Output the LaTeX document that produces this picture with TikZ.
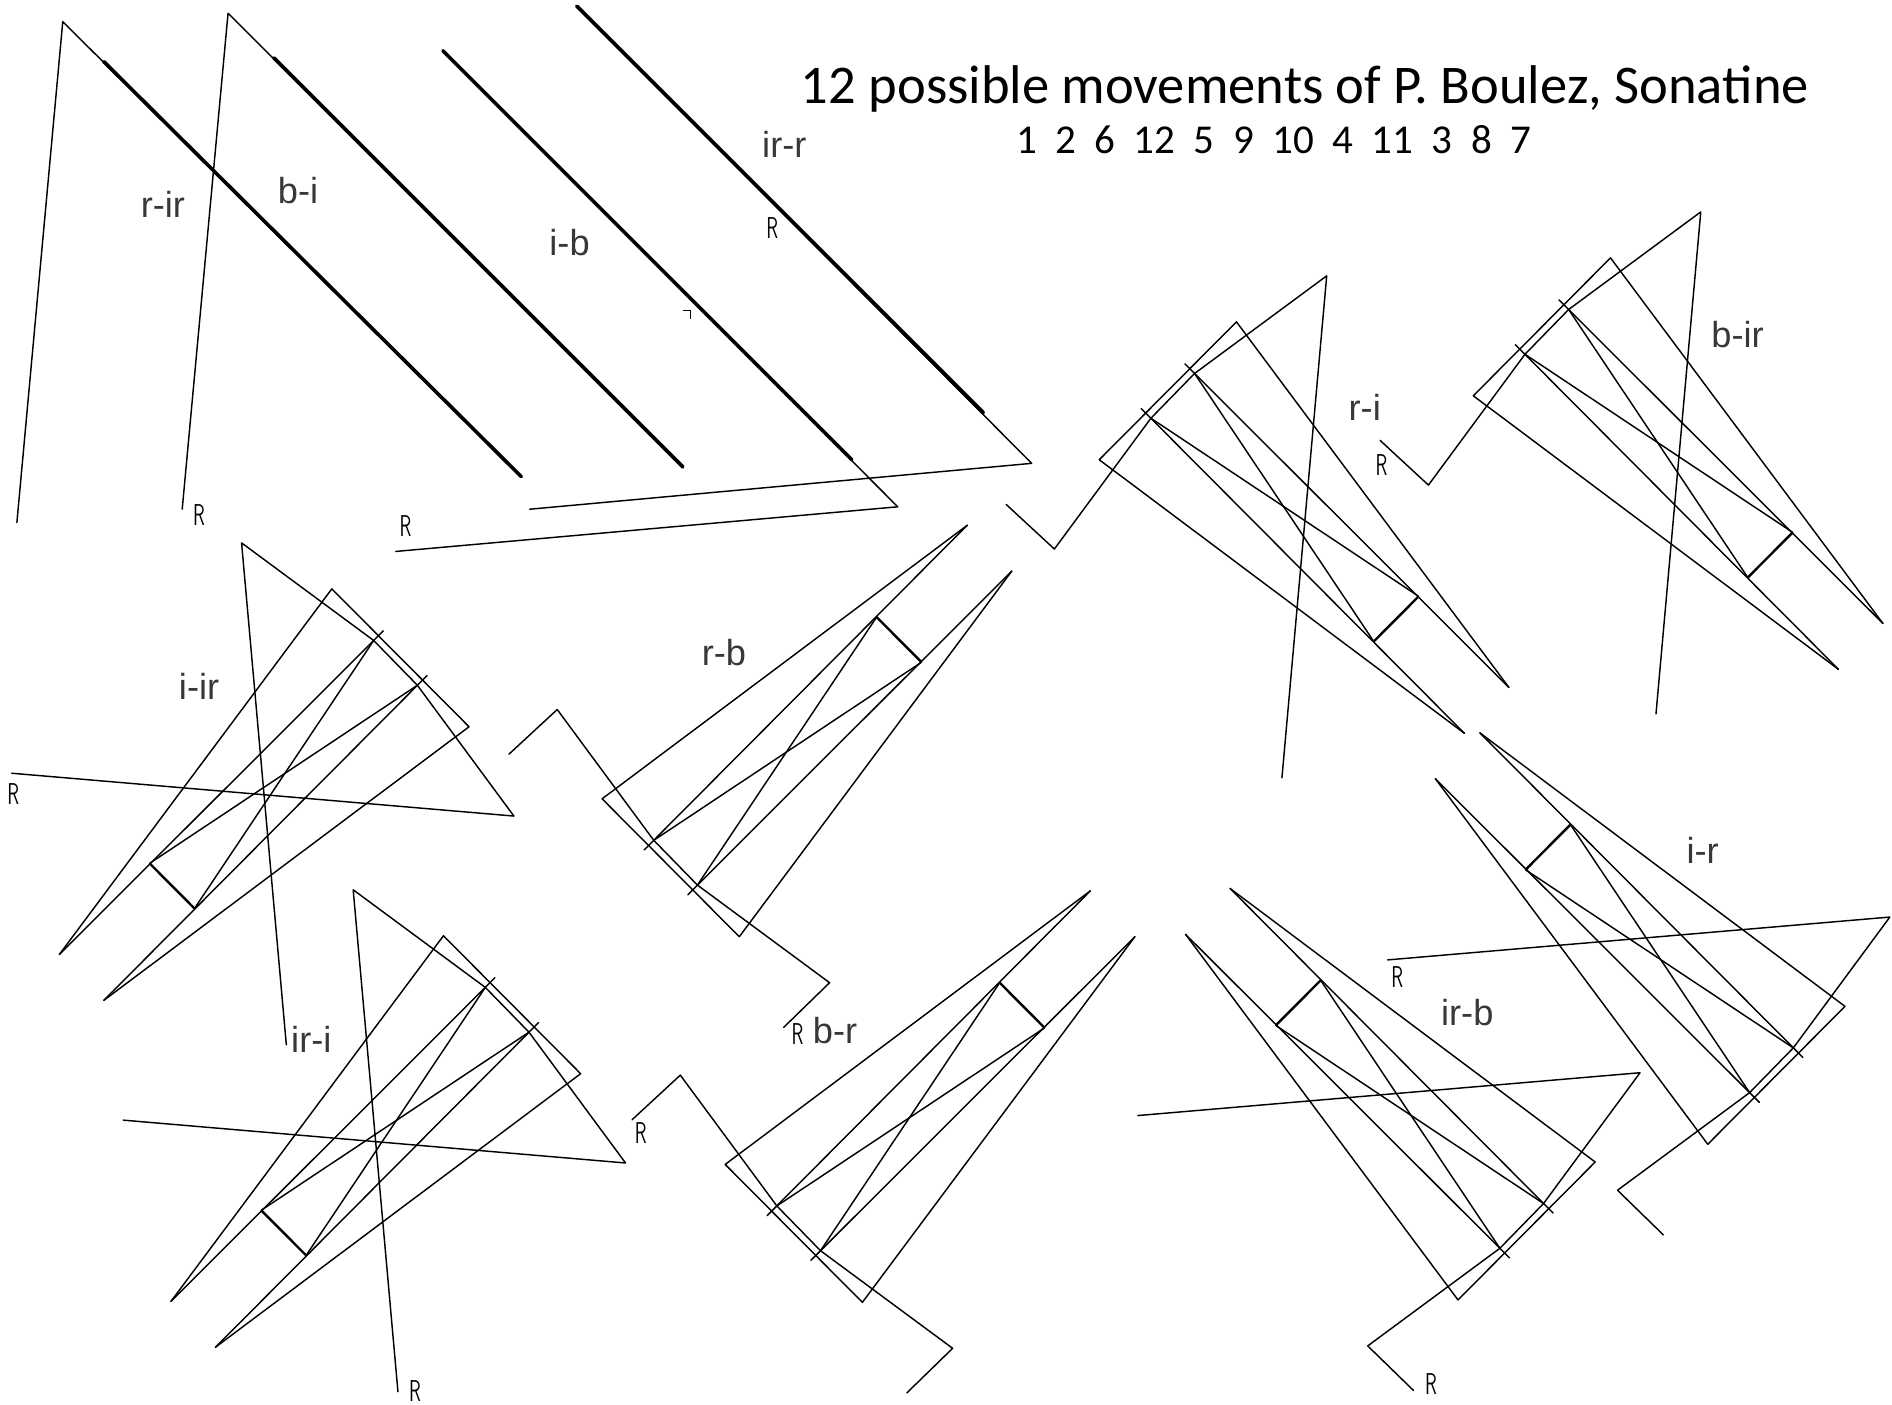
\documentclass[tikz,border=0pt]{standalone}
\usepackage{fontspec}
\newfontfamily\carlito{Carlito}
\newfontfamily\arialf{Liberation Sans}
\tikzset{
  ln/.style={line width=0.6pt, line join=round, line cap=round},
  heavy/.style={line width=1.5pt, line cap=round},
  rectside/.style={line width=1pt},
  lab/.style={font=\arialf\fontsize{15}{15}\selectfont, text=black!78, inner sep=0pt},
  rmark/.style={font=\sffamily\fontsize{12.5}{12.5}\selectfont, inner sep=0pt, xscale=0.62},
}
% base figure in local coordinates; #1 prefix, (#2,#3) start point, (#4,#5) end point
\newcommand\figbase[5]{%
  \coordinate (#1Qa) at (0,0);
  \coordinate (#1Qb) at (113.7,114.3);
  \coordinate (#1Z2) at (-37.2,-74);
  \coordinate (#1X1) at (42.8,34.4);
  \coordinate (#1X2) at (79,71.5);
  \coordinate (#1Z3) at (188.5,152.4);
  \coordinate (#1T1) at (302.6,-226.7);
  \coordinate (#1T2) at (339.5,-188.7);
  \coordinate (#1R1) at (227.5,-150.6);
  \coordinate (#1R2) at (264.7,-113.2);
  \coordinate (#1E1) at (34.8,42.4);
  \coordinate (#1E2) at (71,79.5);
  \coordinate (#1S) at (#2,#3);
  \coordinate (#1F) at (#4,#5);
  \draw[ln] (#1S) -- (#1Z2) -- (#1X1) -- (#1X2) -- (#1Z3) -- (#1F);
  \draw[ln] (#1T1) -- (#1Qa) -- (#1Qb) -- (#1T2);
  \draw[ln] (#1E1) -- (#1T1);
  \draw[ln] (#1E2) -- (#1T2);
  \draw[ln] (#1X1) -- (#1R2);
  \draw[ln] (#1X2) -- (#1R1);
  \draw[rectside] (#1R1) -- (#1R2);
}
\begin{document}
\begin{tikzpicture}[x=0.5pt,y=-0.5pt]
\fill[white] (0,0) rectangle (1568,1164);
\useasboundingbox (0,0) rectangle (1568,1164);

% ---- top-left simple figures ----
\coordinate (a1) at (14,433); \coordinate (a2) at (52,18);
\coordinate (a3) at (432,395); \coordinate (a4) at (86,51);
\draw[ln] (a1) -- (a2) -- (a3); \draw[heavy] (a4) -- (a3);

\coordinate (b1) at (151,422); \coordinate (b2) at (189,11);
\coordinate (b3) at (566,387); \coordinate (b4) at (227,48);
\draw[ln] (b1) -- (b2) -- (b3); \draw[heavy] (b4) -- (b3);

\coordinate (c1) at (367,42); \coordinate (c2) at (706,381);
\coordinate (c3) at (744,420); \coordinate (c4) at (328,457);
\draw[ln] (c1) -- (c3) -- (c4); \draw[heavy] (c1) -- (c2);

\coordinate (d1) at (478,5); \coordinate (d2) at (815,342);
\coordinate (d3) at (855,384); \coordinate (d4) at (439,422);
\draw[ln] (d1) -- (d3) -- (d4); \draw[heavy] (d1) -- (d2);

\coordinate (n1) at (566,257); \coordinate (n2) at (572,257); \coordinate (n3) at (572,264);
\draw[line width=0.5pt] (n1) -- (n2) -- (n3);

% ---- complex figures ----
\begin{scope}[shift={(499,662)}] \figbase{rb}{-77.2}{-37}{150.5}{189.4} \end{scope}
\begin{scope}[shift={(601,965)}] \figbase{br}{-77.2}{-37}{150.5}{189.4} \end{scope}
\begin{scope}[shift={(911,381)},yscale=-1] \figbase{ri}{-77.2}{-37}{151.4}{-263.6} \end{scope}
\begin{scope}[shift={(1221,328)},yscale=-1] \figbase{bir}{-77.2}{-37}{151.4}{-263.6} \end{scope}
\begin{scope}[shift={(1529,834)},xscale=-1] \figbase{ir}{379}{-38.5}{150.5}{189.4} \end{scope}
\begin{scope}[shift={(1322,963)},xscale=-1] \figbase{irb}{379}{-38.5}{150.5}{189.4} \end{scope}
\begin{scope}[shift={(388.7,602.3)},rotate=180] \figbase{iir}{379}{-38.5}{151.4}{-263.6} \end{scope}
\begin{scope}[shift={(481.2,889.8)},rotate=180] \figbase{iri}{379}{-38.5}{151.4}{-263.6} \end{scope}

% ---- small R marks ----
\node[rmark] (m1) at (165,427) {R};
\node[rmark] (m2) at (336,436) {R};
\node[rmark] (m3) at (640,189) {R};
\node[rmark] (m4) at (1145,385) {R};
\node[rmark] (m5) at (11,658) {R};
\node[rmark] (m6) at (661,857) {R};
\node[rmark] (m7) at (531,939) {R};
\node[rmark] (m8) at (344,1153) {R};
\node[rmark] (m9) at (1158,810) {R};
\node[rmark] (m10) at (1186,1147) {R};

% ---- labels ----
\node[lab] (l1) at (135,169) {r-ir};
\node[lab] (l2) at (247,158) {b-i};
\node[lab] (l3) at (472,201) {i-b};
\node[lab] (l4) at (650,120) {ir-r};
\node[lab] (l5) at (1131,338) {r-i};
\node[lab] (l6) at (1440,277) {b-ir};
\node[lab] (l7) at (165,569) {i-ir};
\node[lab] (l8) at (600,541) {r-b};
\node[lab] (l9) at (258,861) {ir-i};
\node[lab] (l10) at (692,854) {b-r};
\node[lab] (l11) at (1411,705) {i-r};
\node[lab] (l12) at (1216,839) {ir-b};

% ---- title ----
\node[anchor=base, inner sep=0pt, font=\carlito\fontsize{22.6}{24}\selectfont] (title) at (1081.5,86)
  {12 possible movements of P. Boulez, Sonatine};
\node[anchor=base, inner sep=0pt, font=\carlito\fontsize{17}{19}\selectfont] (order) at (1055.5,127)
  {1\hspace{0.45em}2\hspace{0.45em}6\hspace{0.45em}12\hspace{0.45em}5\hspace{0.45em}9\hspace{0.45em}10\hspace{0.45em}4\hspace{0.45em}11\hspace{0.45em}3\hspace{0.45em}8\hspace{0.45em}7};
\end{tikzpicture}
\end{document}
